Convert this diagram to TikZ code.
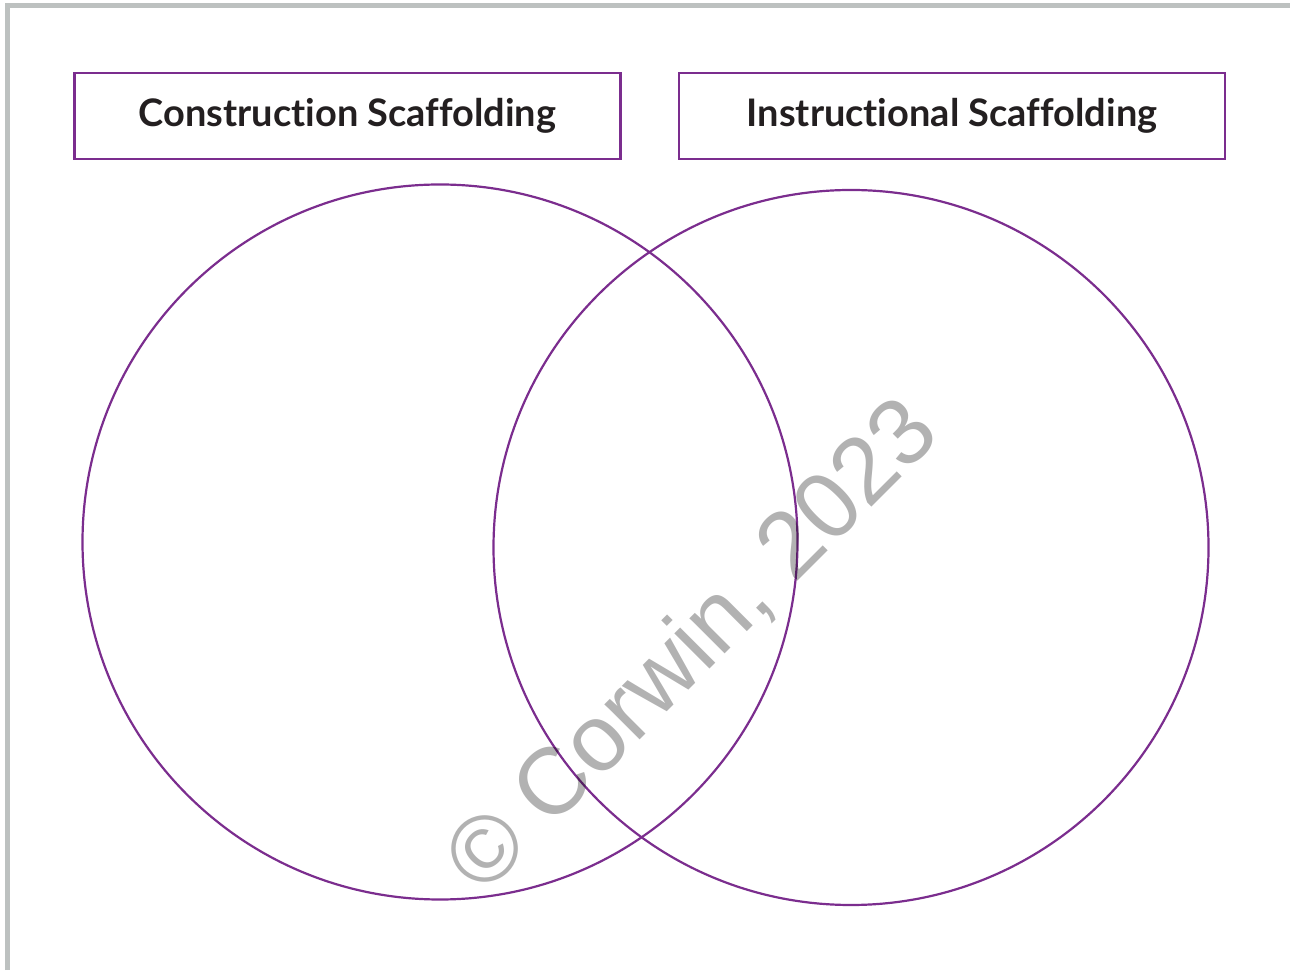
\documentclass[tikz,border=0pt]{standalone}
\usepackage{fontspec}
\setsansfont{Lato}[Ligatures=NoCommon]
\newfontfamily\markfont{Liberation Sans}
\usetikzlibrary{positioning}
\definecolor{venn}{HTML}{7B2D8E}
\definecolor{framegray}{HTML}{BDC1C0}
\definecolor{ink}{HTML}{231F20}
\tikzset{
  setbox/.style={draw=venn,line width=0.0625cm,minimum width=13.65cm,minimum height=2.15cm,
    font=\sffamily\bfseries\fontsize{27}{32}\selectfont,text=ink},
  setcircle/.style={circle,draw=venn,line width=0.055cm,minimum size=17.875cm,inner sep=0pt}
}

\begin{document}
\begin{tikzpicture}
\useasboundingbox (0,0) rectangle (32.25,24.25);
\draw[framegray,line width=0.125cm] (0.1875,0) |- (32.25,24.1125);
\node[setbox] (CS) at (8.6875,21.35) {Construction Scaffolding};
\node[setbox,right=1.4cm of CS] (IS) {Instructional Scaffolding};
\node[setcircle] (L) at (11,10.7) {};
\node[setcircle] (R) at (21.275,10.5625) {};
\node[rotate=45,text=black,text opacity=0.3,font=\markfont\fontsize{67}{67}\selectfont] (mark) at (17.33,8.08) {© Corwin, 2023};
\end{tikzpicture}
\end{document}
